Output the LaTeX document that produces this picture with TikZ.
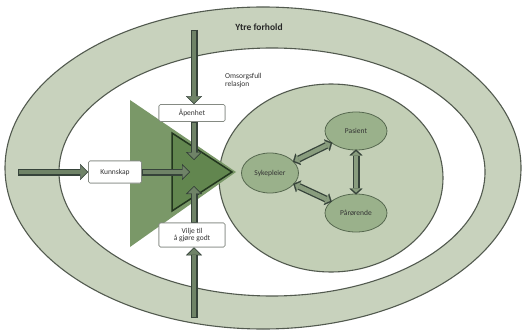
\documentclass[tikz,border=0pt]{standalone}
\usepackage{fontspec}
\setmainfont{Carlito}
\usetikzlibrary{arrows.meta,shapes.geometric}

\definecolor{ringfill}{HTML}{C8D2BD}
\definecolor{ringedge}{HTML}{525A4F}
\definecolor{corefill}{HTML}{C3CFB6}
\definecolor{bigtri}{HTML}{7A9868}
\definecolor{smalltri}{HTML}{62864F}
\definecolor{triedge}{HTML}{22361E}
\definecolor{arrowedge}{HTML}{36433A}
\definecolor{arrowbody}{HTML}{6F8367}
\definecolor{linkbody}{HTML}{899D7E}
\definecolor{actorfill}{HTML}{9AB18B}
\definecolor{actoredge}{HTML}{56684F}
\definecolor{boxedge}{HTML}{858A83}

\tikzset{
  % two-layer block arrow: dark rim, lighter body
  blkout/.style={line width=7pt, draw=arrowedge,
    -{Triangle[length=8pt,width=16pt,line width=0.2pt]}},
  blkin/.style={line width=4.4pt, draw=arrowbody,
    -{Triangle[length=6.2pt,width=12pt,line width=0.2pt]},
    shorten >=1.1pt, shorten <=1pt},
  lnkout/.style={line width=7pt, draw=arrowedge,
    {Triangle[length=6pt,width=13pt,line width=0.2pt]}-{Triangle[length=6pt,width=13pt,line width=0.2pt]}},
  lnkin/.style={line width=4.4pt, draw=linkbody,
    {Triangle[length=4.4pt,width=9.5pt,line width=0.2pt]}-{Triangle[length=4.4pt,width=9.5pt,line width=0.2pt]},
    shorten >=1pt, shorten <=1pt},
  labelbox/.style={draw=boxedge, line width=0.6pt, fill=white, rounded corners=1.5pt,
    inner sep=1pt, align=center, font=\fontsize{7.5}{7.5}\selectfont, text=black!80},
  actor/.style={ellipse, draw=actoredge, line width=0.8pt, fill=actorfill,
    inner sep=0pt, font=\fontsize{7.5}{8}\selectfont, text=black!80},
}

\begin{document}
\begin{tikzpicture}[x=1pt,y=-1pt]
\useasboundingbox (0,0) rectangle (526,331);

% outer ring and inner free area
\fill[ringfill, draw=ringedge, line width=1.1pt] (263,168) ellipse [x radius=258pt, y radius=161pt];
\fill[white, draw=ringedge, line width=1.1pt] (272,172) ellipse [x radius=213pt, y radius=124pt];
% caring relation area
\fill[corefill, draw=ringedge, line width=1.1pt] (331,178) ellipse [x radius=112pt, y radius=94pt];

% triangles
\fill[bigtri] (130,100) -- (130,247) -- (236,172) -- cycle;
\filldraw[fill=smalltri, draw=triedge, line width=1.5pt, line join=miter]
  (172,133) -- (172,211) -- (232,172) -- cycle;

% texts
\node[font=\fontsize{9.5}{10}\selectfont\bfseries, text=black!85] (ytre) at (259,27) {Ytre forhold};
\node[font=\fontsize{7.5}{8.5}\selectfont, align=left, anchor=north west, inner sep=0pt, text=black!80]
  (oms) at (225,73) {Omsorgsfull\\relasjon};

% label boxes
\node[labelbox, minimum width=66pt, minimum height=17pt] (apen) at (192,113) {Åpenhet};
\node[labelbox, minimum width=53pt, minimum height=22pt] (kunn) at (115,172) {Kunnskap};
\node[labelbox, minimum width=66pt, minimum height=24pt] (vilje) at (192,235) {Vilje til\\å gjøre godt};

% free ends of arrows
\coordinate (topstart) at (194,30);
\coordinate (botstart) at (194,318);
\coordinate (leftstart) at (18,172);
\coordinate (tipA) at (194,160);
\coordinate (tipV) at (194,186);
\coordinate (tipK) at (190,172);

% block arrows
\draw[blkout] (topstart) -- (apen.north -| topstart);
\draw[blkin]  (topstart) -- (apen.north -| topstart);
\draw[blkout] (apen.south -| tipA) -- (tipA);
\draw[blkin]  (apen.south -| tipA) -- (tipA);
\draw[blkout] (botstart) -- (vilje.south -| botstart);
\draw[blkin]  (botstart) -- (vilje.south -| botstart);
\draw[blkout] (vilje.north -| tipV) -- (tipV);
\draw[blkin]  (vilje.north -| tipV) -- (tipV);
\draw[blkout] (leftstart) -- (kunn.west);
\draw[blkin]  (leftstart) -- (kunn.west);
\draw[blkout] (kunn.east) -- (tipK);
\draw[blkin]  (kunn.east) -- (tipK);

% redraw boxes above arrow tails
\node[labelbox, minimum width=66pt, minimum height=17pt] at (apen) {Åpenhet};
\node[labelbox, minimum width=53pt, minimum height=22pt] at (kunn) {Kunnskap};
\node[labelbox, minimum width=66pt, minimum height=24pt] at (vilje) {Vilje til\\å gjøre godt};

% actors
\node[actor, minimum width=57pt, minimum height=40pt] (syk) at (270,173) {Sykepleier};
\node[actor, minimum width=62pt, minimum height=38pt] (pas) at (356,131) {Pasient};
\node[actor, minimum width=62pt, minimum height=38pt] (par) at (356,213) {Pårørende};

% links between actors
\draw[lnkout, shorten <=-1pt, shorten >=-1pt] (syk) -- (pas);
\draw[lnkin] (syk) -- (pas);
\draw[lnkout, shorten <=-1pt, shorten >=-1pt] (pas) -- (par);
\draw[lnkin] (pas) -- (par);
\draw[lnkout, shorten <=-1pt, shorten >=-1pt] (syk) -- (par);
\draw[lnkin] (syk) -- (par);
\end{tikzpicture}
\end{document}
